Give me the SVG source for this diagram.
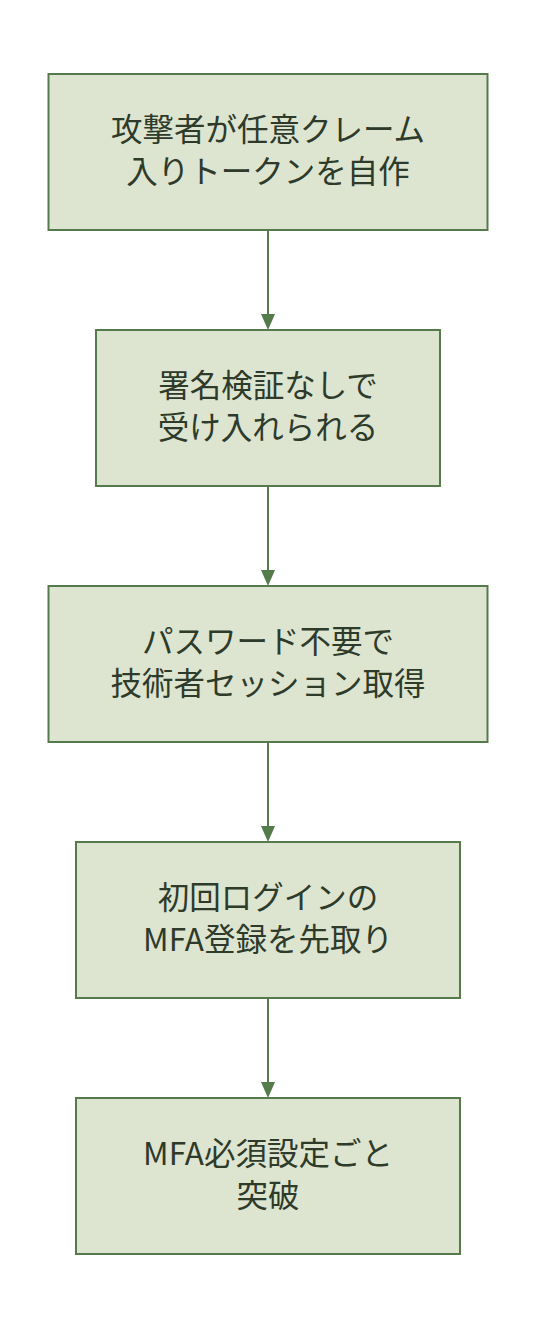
<svg xmlns="http://www.w3.org/2000/svg" width="536" height="1332" viewBox="0 0 536 1332">
<style>
.box{fill:#dde5d0;stroke:#557a4c;stroke-width:2}
.t{font-family:"Noto Sans CJK JP","Noto Sans",sans-serif;font-size:31.5px;fill:#2e3a2a;text-anchor:middle}
.c{stroke:#557a4c;stroke-width:2;fill:none}
.h{fill:#557a4c}
</style>
<g id="connectors">
<line class="c" x1="268" y1="230" x2="268" y2="314"/><path class="h" d="M261,314 L275,314 L268,330 Z"/>
<line class="c" x1="268" y1="486" x2="268" y2="570"/><path class="h" d="M261,570 L275,570 L268,586 Z"/>
<line class="c" x1="268" y1="742" x2="268" y2="826"/><path class="h" d="M261,826 L275,826 L268,842 Z"/>
<line class="c" x1="268" y1="998" x2="268" y2="1082"/><path class="h" d="M261,1082 L275,1082 L268,1098 Z"/>
</g>
<g id="n1"><rect class="box" x="48.5" y="74" width="439" height="156"/>
<text class="t" x="268" y="141">攻撃者が任意クレーム</text><text class="t" x="268" y="183">入りトークンを自作</text></g>
<g id="n2"><rect class="box" x="96" y="330" width="344" height="156"/>
<text class="t" x="268" y="397">署名検証なしで</text><text class="t" x="268" y="439">受け入れられる</text></g>
<g id="n3"><rect class="box" x="48.5" y="586" width="439" height="156"/>
<text class="t" x="268" y="653">パスワード不要で</text><text class="t" x="268" y="695">技術者セッション取得</text></g>
<g id="n4"><rect class="box" x="76" y="842" width="384" height="156"/>
<text class="t" x="268" y="909">初回ログインの</text><text class="t" x="268" y="951">MFA登録を先取り</text></g>
<g id="n5"><rect class="box" x="76" y="1098" width="384" height="156"/>
<text class="t" x="268" y="1165">MFA必須設定ごと</text><text class="t" x="268" y="1207">突破</text></g>
</svg>
